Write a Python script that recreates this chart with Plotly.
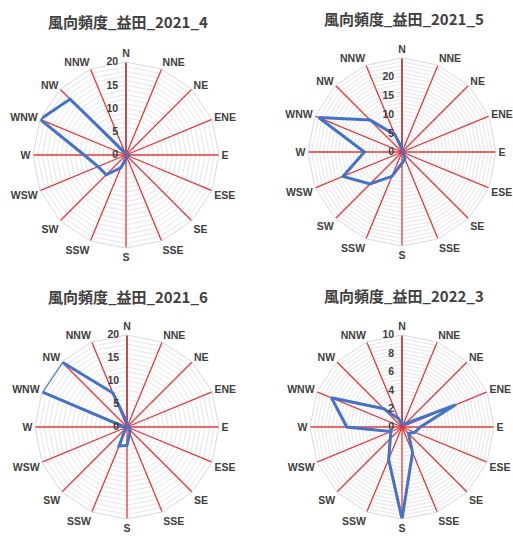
import numpy as np
import plotly.graph_objects as go

# 16 compass directions, clockwise from north
directions = ["N", "NNE", "NE", "ENE", "E", "ESE", "SE", "SSE",
              "S", "SSW", "SW", "WSW", "W", "WNW", "NW", "NNW"]

# wind-direction frequency per month (Masuda)
freq_2021_4 = [0.3, 0.3, 0.3, 0.3, 0.5, 0.5, 0.5, 0.5, 1, 3, 6, 6.5, 9, 20, 17, 0.5]
freq_2021_5 = [1, 0.5, 0.3, 0.3, 0.5, 0.5, 0.5, 2, 3, 7, 12, 17, 10, 24, 12, 5]
freq_2021_6 = [1, 0.3, 0.3, 0.3, 0.5, 0.5, 1, 1.5, 4, 4.5, 0.5, 0.3, 0.5, 20, 20, 8]
freq_2022_3 = [0.3, 0.3, 0.5, 6.3, 2, 1.5, 1, 3, 10, 3.8, 1.8, 1.3, 6, 8.3, 2.8, 1]

titles = ["風向頻度_益田_2021_4", "風向頻度_益田_2021_5",
          "風向頻度_益田_2021_6", "風向頻度_益田_2022_3"]
series = [freq_2021_4, freq_2021_5, freq_2021_6, freq_2022_3]
# (max, major step, labelled max)
scales = [(20, 5, 20), (25, 5, 20), (20, 5, 20), (10, 2, 10)]

W, H = 513, 536
# circle centre (px) and radius (px) for each panel
panels = [(126, 155, 93), (402, 152, 94), (127, 427, 92), (402, 427, 92)]
title_pos = [(128, 22), (404, 18), (128, 296), (404, 295)]

fig = go.Figure()
layout = dict(width=W, height=H, margin=dict(l=0, r=0, t=0, b=0),
              paper_bgcolor="white", plot_bgcolor="white", showlegend=False)

label_font = dict(family="Liberation Sans", size=10.5, color="#404040", weight="bold")
tick_font = dict(family="Liberation Sans", size=10.5, color="#404040", weight="bold")

for i, (vals, (rmax, major, lab_max), (cx, cy, rad)) in enumerate(zip(series, scales, panels)):
    key = "polar" if i == 0 else f"polar{i + 1}"
    minor = major / 5
    grid_vals = list(np.round(np.arange(0, rmax + minor / 2, minor), 4))
    grid_text = []
    for v in grid_vals:
        if abs(v / major - round(v / major)) < 1e-6 and v <= lab_max + 1e-6:
            grid_text.append(f"{int(round(v))}\u00a0\u00a0")
        else:
            grid_text.append("")
    layout[key] = dict(
        domain=dict(x=[(cx - rad) / W, (cx + rad) / W],
                    y=[1 - (cy + rad) / H, 1 - (cy - rad) / H]),
        bgcolor="white",
        gridshape="linear",
        angularaxis=dict(
            type="category", categoryarray=directions,
            rotation=90, direction="clockwise",
            showgrid=False,
            showline=True, linecolor="#d9d9d9", linewidth=1,
            ticks="", tickfont=label_font,
        ),
        radialaxis=dict(
            range=[0, rmax], angle=90, tickangle=90,
            side="counterclockwise",
            tickmode="array", tickvals=grid_vals, ticktext=grid_text,
            showgrid=True, gridcolor="#e6e6e6", gridwidth=1,
            showline=False,
            ticks="", tickfont=tick_font,
        ),
    )
    # red spokes, one per direction, drawn over the concentric grid
    spoke_r, spoke_t = [], []
    for d in directions:
        spoke_r += [0, rmax, None]
        spoke_t += [d, d, None]
    fig.add_trace(go.Scatterpolar(
        r=spoke_r, theta=spoke_t, mode="lines",
        line=dict(color="#e0393e", width=1.3),
        subplot=key, hoverinfo="skip",
    ))
    # radial axis line along north
    fig.add_trace(go.Scatterpolar(
        r=[0, rmax], theta=["N", "N"], mode="lines",
        line=dict(color="#9a3b3b", width=1.3),
        subplot=key, hoverinfo="skip",
    ))
    fig.add_trace(go.Scatterpolar(
        r=list(vals) + [vals[0]],
        theta=directions + [directions[0]],
        mode="lines",
        line=dict(color="#4472c4", width=3),
        subplot=key,
        hoverinfo="skip",
    ))

annotations = []
for t, (tx, ty) in zip(titles, title_pos):
    annotations.append(dict(
        text=t, x=tx / W, y=1 - ty / H, xref="paper", yref="paper",
        xanchor="center", yanchor="middle", showarrow=False,
        font=dict(family="Noto Sans CJK JP", size=15, color="#404040", weight="bold"),
    ))
layout["annotations"] = annotations

fig.update_layout(**layout)
fig.write_html("out.html")
